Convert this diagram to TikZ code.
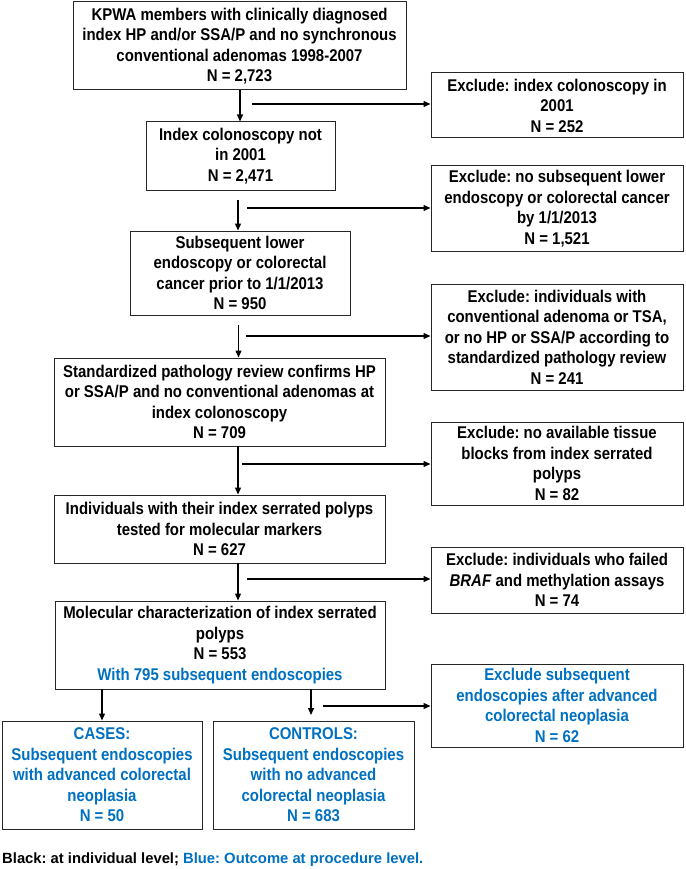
\documentclass[tikz,border=0pt]{standalone}
\usepackage{fontspec}
\setmainfont{Liberation Sans}[FakeStretch=0.88]
\newfontfamily\legfont{Liberation Sans}
\usetikzlibrary{arrows.meta}
\definecolor{myblue}{HTML}{0070C0}
\frenchspacing
\tikzset{
  box/.style={draw=black!85, line width=1pt, align=center, inner sep=2pt,
    font=\fontsize{17}{20.5}\selectfont\bfseries},
  arr/.style={draw=black, line width=1.3pt, -{Triangle[length=7pt,width=6pt]}},
}
\begin{document}
\begin{tikzpicture}[x=1pt,y=-1pt]
\useasboundingbox (0,0) rectangle (685,869);
\node[box, minimum width=333, minimum height=88] (b1) at (239.5,46)
  {KPWA members with clinically diagnosed\\index HP and/or SSA/P and no synchronous\\conventional adenomas 1998-2007\\N = 2,723};
\node[box, minimum width=252, minimum height=65] (e1) at (557,105.5)
  {Exclude: index colonoscopy in\\2001\\N = 252};
\node[box, minimum width=189, minimum height=68] (b2) at (240.5,156)
  {Index colonoscopy not\\in 2001\\N = 2,471};
\node[box, minimum width=252, minimum height=85] (e2) at (557,208.5)
  {Exclude: no subsequent lower\\endoscopy or colorectal cancer\\by 1/1/2013\\N = 1,521};
\node[box, minimum width=220, minimum height=84] (b3) at (240,273)
  {Subsequent lower\\endoscopy or colorectal\\cancer prior to 1/1/2013\\N = 950};
\node[box, minimum width=252, minimum height=106] (e3) at (557,337)
  {Exclude: individuals with\\conventional adenoma or TSA,\\or no HP or SSA/P according to\\standardized pathology review\\N = 241};
\node[box, minimum width=331, minimum height=88] (b4) at (219.5,402)
  {Standardized pathology review confirms HP\\or SSA/P and no conventional adenomas at\\index colonoscopy\\N = 709};
\node[box, minimum width=252, minimum height=83] (e4) at (557,463.5)
  {Exclude: no available tissue\\blocks from index serrated\\polyps\\N = 82};
\node[box, minimum width=331, minimum height=68] (b5) at (219.5,529)
  {Individuals with their index serrated polyps\\tested for molecular markers\\N = 627};
\node[box, minimum width=252, minimum height=66] (e5) at (557,580)
  {Exclude: individuals who failed\\\textit{BRAF} and methylation assays\\N = 74};
\node[box, minimum width=330, minimum height=88] (b6) at (220,645)
  {Molecular characterization of index serrated\\polyps\\N = 553\\\textcolor{myblue}{With 795 subsequent endoscopies}};
\node[box, text=myblue, minimum width=252, minimum height=83] (e6) at (557,705.5)
  {Exclude subsequent\\endoscopies after advanced\\colorectal neoplasia\\N = 62};
\node[box, text=myblue, minimum width=200, minimum height=108] (cases) at (102,775)
  {CASES:\\Subsequent endoscopies\\with advanced colorectal\\neoplasia\\N = 50};
\node[box, text=myblue, minimum width=201, minimum height=108] (controls) at (313.5,775)
  {CONTROLS:\\Subsequent endoscopies\\with no advanced\\colorectal neoplasia\\N = 683};
\node[anchor=west, inner sep=0pt, font=\legfont\fontsize{14.8}{17}\selectfont\bfseries] (leg) at (2,860)
  {Black: at individual level; \textcolor{myblue}{Blue: Outcome at procedure level.}};
% vertical arrows
\coordinate (v1) at (240,90);
\coordinate (v2) at (238,200);
\coordinate (v3) at (238.5,325);
\coordinate (v4) at (238,446);
\coordinate (v5) at (238,563);
\coordinate (v6) at (102,689);
\coordinate (v7) at (311,689);
\coordinate (v7e) at (311,715);
\draw[arr] (v1) -- (v1 |- b2.north);
\draw[arr] (v2) -- (v2 |- b3.north);
\draw[arr] (v3) -- (v3 |- b4.north);
\draw[arr] (v4) -- (v4 |- b5.north);
\draw[arr] (v5) -- (v5 |- b6.north);
\draw[arr] (v6) -- (cases.north);
\draw[arr] (v7) -- (v7e);
% horizontal arrows
\coordinate (h1) at (252,104);
\coordinate (h2) at (247,208);
\coordinate (h3) at (246,336);
\coordinate (h4) at (242,464);
\coordinate (h5) at (247,579);
\coordinate (h6) at (323,706);
\draw[arr] (h1) -- (h1 -| e1.west);
\draw[arr] (h2) -- (h2 -| e2.west);
\draw[arr] (h3) -- (h3 -| e3.west);
\draw[arr] (h4) -- (h4 -| e4.west);
\draw[arr] (h5) -- (h5 -| e5.west);
\draw[arr] (h6) -- (h6 -| e6.west);
\end{tikzpicture}
\end{document}
